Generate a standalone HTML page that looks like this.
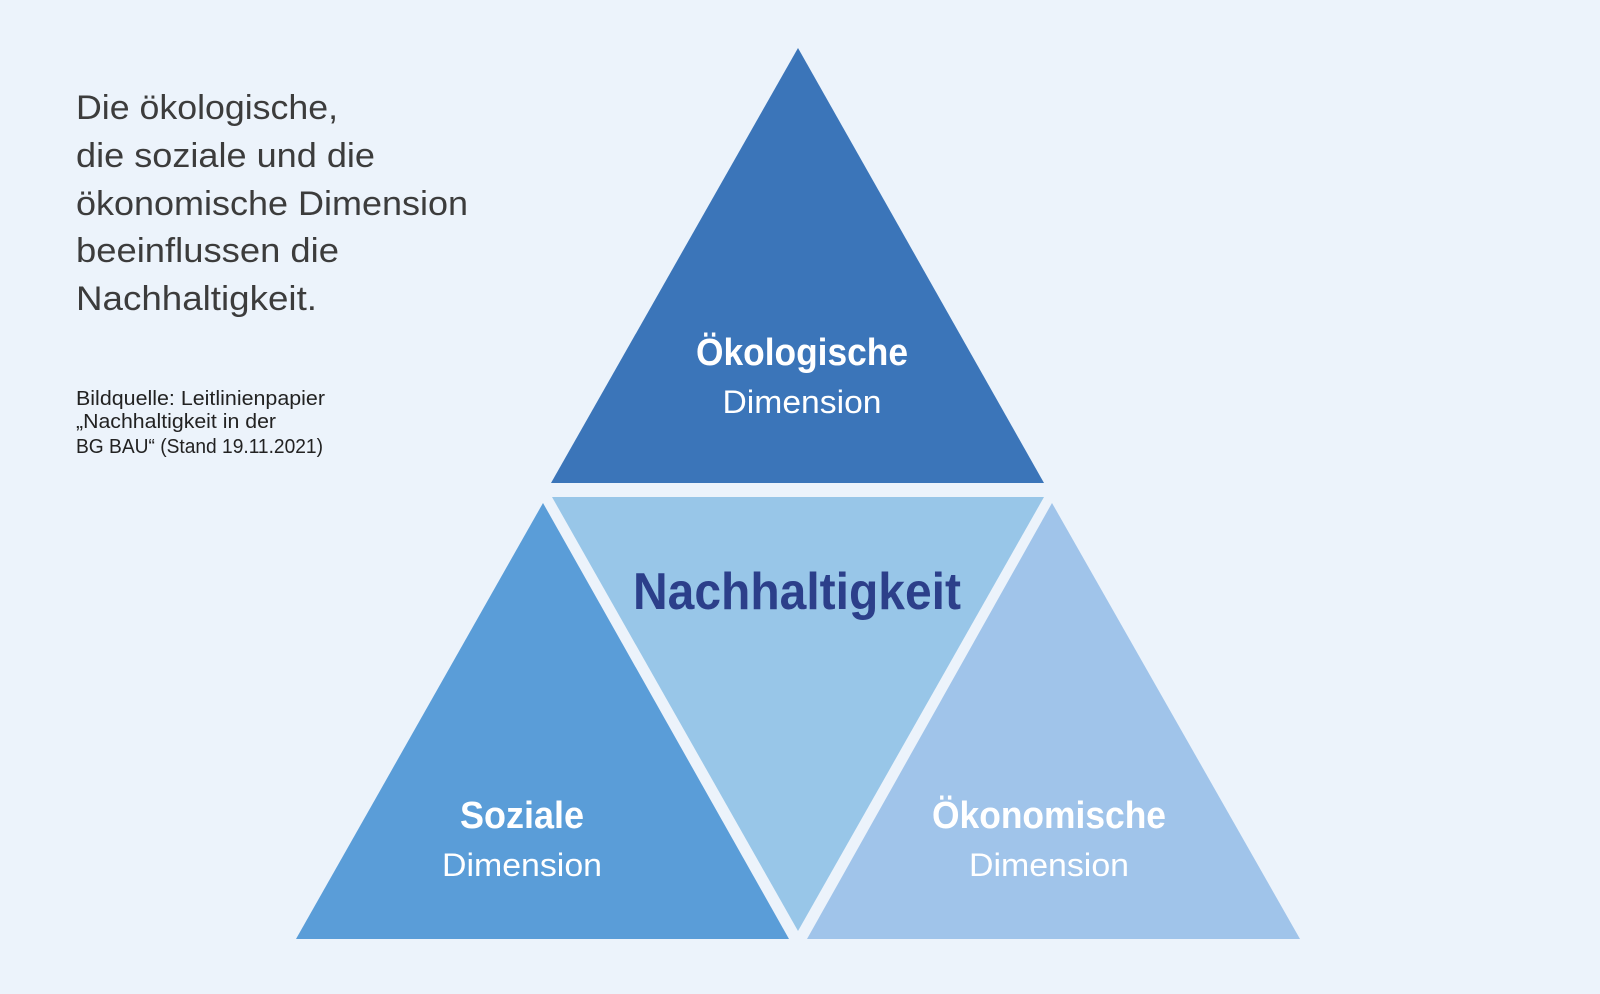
<!DOCTYPE html>
<html><head><meta charset="utf-8"><style>
html,body{margin:0;padding:0;background:#ecf3fb;}
svg{display:block;}
text{font-family:"Liberation Sans",sans-serif;}
</style></head><body>
<svg width="1600" height="994" viewBox="0 0 1600 994" xmlns="http://www.w3.org/2000/svg">
<rect width="1600" height="994" fill="#ecf3fb"/>
<polygon points="798,48 551,483 1044,483" fill="#3b75b9"/>
<polygon points="552,497 1044,497 798,931" fill="#98c6e8"/>
<polygon points="543,503 296,939 789,939" fill="#5a9dd8"/>
<polygon points="1052,503 807,939 1300,939" fill="#a0c4ea"/>
<g fill="#3c3c3c" font-size="34" lengthAdjust="spacingAndGlyphs">
<text x="76" y="119" textLength="262" lengthAdjust="spacingAndGlyphs">Die ökologische,</text>
<text x="76" y="167" textLength="299" lengthAdjust="spacingAndGlyphs">die soziale und die</text>
<text x="76" y="215" textLength="392" lengthAdjust="spacingAndGlyphs">ökonomische Dimension</text>
<text x="76" y="262" textLength="263" lengthAdjust="spacingAndGlyphs">beeinflussen die</text>
<text x="76" y="310" textLength="241" lengthAdjust="spacingAndGlyphs">Nachhaltigkeit.</text>
</g>
<g fill="#222" font-size="20">
<text x="76" y="405" textLength="249" lengthAdjust="spacingAndGlyphs">Bildquelle: Leitlinienpapier</text>
<text x="76" y="428" textLength="200" lengthAdjust="spacingAndGlyphs">„Nachhaltigkeit in der</text>
<text x="76" y="453" textLength="247" lengthAdjust="spacingAndGlyphs">BG BAU“ (Stand 19.11.2021)</text>
</g>
<g fill="#ffffff" text-anchor="middle">
<text x="802" y="365" font-size="38" font-weight="bold" textLength="212" lengthAdjust="spacingAndGlyphs">Ökologische</text>
<text x="802" y="413" font-size="32" textLength="159" lengthAdjust="spacingAndGlyphs">Dimension</text>
<text x="522" y="828" font-size="38" font-weight="bold" textLength="124" lengthAdjust="spacingAndGlyphs">Soziale</text>
<text x="522" y="876" font-size="32" textLength="160" lengthAdjust="spacingAndGlyphs">Dimension</text>
<text x="1049" y="828" font-size="38" font-weight="bold" textLength="234" lengthAdjust="spacingAndGlyphs">Ökonomische</text>
<text x="1049" y="876" font-size="32" textLength="160" lengthAdjust="spacingAndGlyphs">Dimension</text>
</g>
<text x="797" y="609" text-anchor="middle" fill="#2c3f8a" font-size="52" font-weight="bold" textLength="328" lengthAdjust="spacingAndGlyphs">Nachhaltigkeit</text>
</svg>
</body></html>
